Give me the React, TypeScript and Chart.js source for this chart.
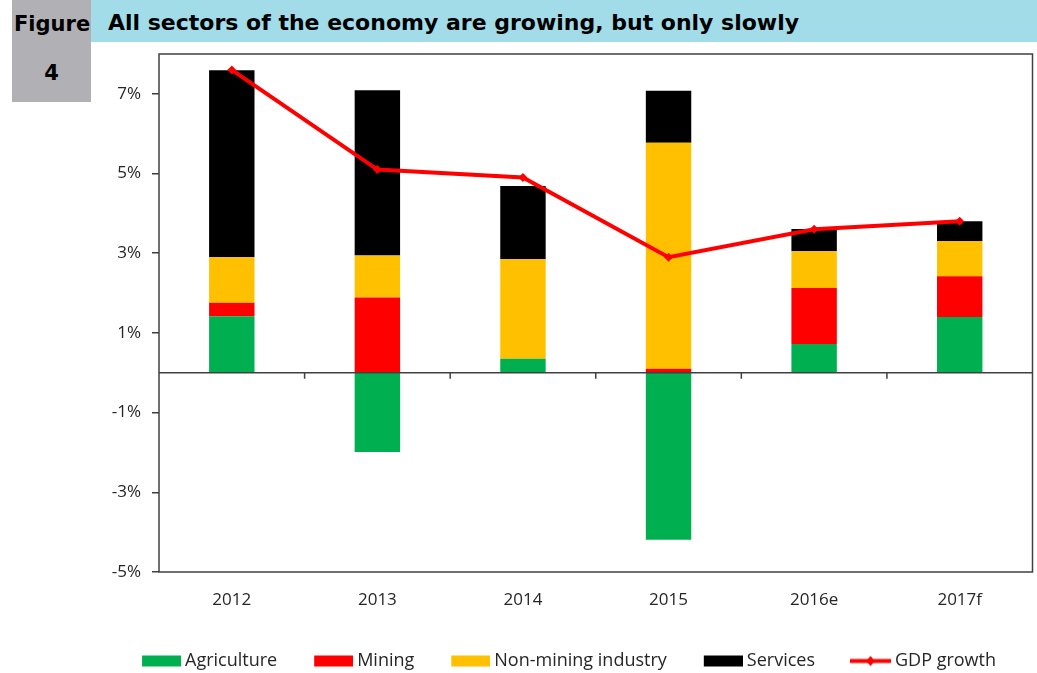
import React, { useEffect, useRef } from "react";
import { Chart, registerables } from "chart.js";

Chart.register(...registerables);

const categories = ["2012", "2013", "2014", "2015", "2016e", "2017f"];
const agriculture = [1.42, -1.99, 0.35, -4.19, 0.72, 1.4];
const mining = [0.34, 1.89, 0, 0.1, 1.41, 1.02];
const nonMining = [1.14, 1.05, 2.5, 5.67, 0.92, 0.89];
const services = [4.69, 4.15, 1.84, 1.31, 0.56, 0.49];
const gdpGrowth = [7.6, 5.1, 4.9, 2.9, 3.6, 3.8];
const yTicks = [-5, -3, -1, 1, 3, 5, 7];
const seriesNames = ["Agriculture", "Mining", "Non-mining industry", "Services", "GDP growth"];
const seriesColors = ["#00b050", "#ff0000", "#ffc000", "#000000", "#ff0000"];

const FONT = "'Open Sans', 'Noto Sans', sans-serif";
const TEXT = "#262626";
const AXIS = "#404040";

function makeSwatch(color: string, isLine: boolean): HTMLCanvasElement {
  const c = document.createElement("canvas");
  c.width = 71;
  c.height = 17;
  const g = c.getContext("2d")!;
  if (!isLine) {
    g.fillStyle = color;
    g.fillRect(32, 3, 39, 11);
  } else {
    g.strokeStyle = color;
    g.lineWidth = 4;
    g.beginPath();
    g.moveTo(30, 8.5);
    g.lineTo(71, 8.5);
    g.stroke();
    g.fillStyle = color;
    g.beginPath();
    g.moveTo(50.5, 3.5);
    g.lineTo(55, 8.5);
    g.lineTo(50.5, 13.5);
    g.lineTo(46, 8.5);
    g.closePath();
    g.fill();
  }
  return c;
}

const framePlugin = {
  id: "frame",
  afterDatasetsDraw(chart: any) {
    const { ctx, chartArea: a, scales } = chart;
    const x = scales.x;
    const y = scales.y;
    const y0 = y.getPixelForValue(0);
    ctx.save();
    ctx.strokeStyle = AXIS;
    ctx.lineWidth = 1.5;
    ctx.beginPath();
    ctx.moveTo(a.left, y0);
    ctx.lineTo(a.right, y0);
    for (let i = 0; i < categories.length - 1; i++) {
      const px = (x.getPixelForValue(i) + x.getPixelForValue(i + 1)) / 2;
      ctx.moveTo(px, y0);
      ctx.lineTo(px, y0 + 6);
    }
    ctx.stroke();
    ctx.strokeRect(a.left, a.top, a.right - a.left, a.bottom - a.top);
    ctx.restore();
  },
};

export default function App() {
  const ref = useRef<HTMLCanvasElement | null>(null);

  useEffect(() => {
    if (!ref.current) return;
    const barSeries = [agriculture, mining, nonMining, services];
    const swatches = seriesNames.map((_, i) => makeSwatch(seriesColors[i], i === 4));
    const chart = new Chart(ref.current, {
      type: "bar",
      data: {
        labels: categories,
        datasets: [
          ...barSeries.map((d, i) => ({
            type: "bar" as const,
            label: seriesNames[i],
            data: d,
            backgroundColor: seriesColors[i],
            borderWidth: 0,
            stack: "sectors",
            order: 1,
            barPercentage: 0.312,
            categoryPercentage: 1,
          })),
          {
            type: "line" as const,
            label: seriesNames[4],
            data: gdpGrowth,
            borderColor: seriesColors[4],
            backgroundColor: seriesColors[4],
            borderWidth: 4,
            pointStyle: "rectRot",
            pointRadius: 4.5,
            pointBorderWidth: 0,
            tension: 0,
            stack: "gdp",
            order: 0,
          },
        ] as any,
      },
      options: {
        responsive: false,
        animation: false,
        layout: { padding: { left: 77, right: 3, top: 54, bottom: 0 } },
        scales: {
          x: {
            stacked: true,
            grid: { display: false, drawTicks: false },
            border: { display: false },
            ticks: { font: { family: FONT, size: 17 }, color: TEXT, padding: 18 },
            afterFit: (s: any) => {
              s.height = 70;
            },
          },
          y: {
            stacked: true,
            min: -5,
            max: 8,
            grid: { drawOnChartArea: false, tickLength: 7, color: AXIS, lineWidth: 1.5 },
            border: { display: false },
            ticks: {
              font: { family: FONT, size: 17 },
              color: TEXT,
              padding: 11,
              callback: (v: any) => `${v}%`,
            },
            afterBuildTicks: (s: any) => {
              s.ticks = yTicks.map((v) => ({ value: v }));
            },
            afterFit: (s: any) => {
              s.width = 82;
            },
          },
        },
        plugins: {
          tooltip: { enabled: false },
          legend: {
            position: "bottom",
            labels: {
              usePointStyle: true,
              pointStyleWidth: 61,
              padding: 10,
              font: { family: FONT, size: 18 },
              color: TEXT,
              generateLabels: () =>
                seriesNames.map((name, i) => ({
                  text: name,
                  pointStyle: swatches[i],
                  fillStyle: seriesColors[i],
                  strokeStyle: "rgba(0,0,0,0)",
                  lineWidth: 0,
                  hidden: false,
                  datasetIndex: i,
                  fontColor: TEXT,
                })),
            },
          },
        },
      } as any,
      plugins: [framePlugin],
    });
    return () => chart.destroy();
  }, []);

  const headFont: React.CSSProperties = {
    position: "absolute",
    fontFamily: "'DejaVu Sans', sans-serif",
    fontWeight: "bold",
    fontSize: 21,
    lineHeight: "42px",
    color: "#000",
    whiteSpace: "nowrap",
  };

  return (
    <div
      style={{
        position: "fixed",
        left: 0,
        top: 0,
        width: 1037,
        height: 673,
        overflow: "hidden",
        background: "#fff",
      }}
    >
      <div style={{ position: "absolute", left: 12, top: 0, width: 79, height: 102, background: "#b1b1b5" }} />
      <div style={{ position: "absolute", left: 91, top: 0, width: 946, height: 42, background: "#a2dce8" }} />
      <div style={{ ...headFont, left: 14, top: 2.5 }}>Figure</div>
      <div style={{ ...headFont, left: 12, width: 79, textAlign: "center", top: 51.5 }}>4</div>
      <div style={{ ...headFont, left: 108, top: 2, fontSize: 22 }}>
        All sectors of the economy are growing, but only slowly
      </div>
      <canvas
        ref={ref}
        width={1037}
        height={680}
        style={{ position: "absolute", left: 0, top: 0, width: 1037, height: 680 }}
      />
    </div>
  );
}
